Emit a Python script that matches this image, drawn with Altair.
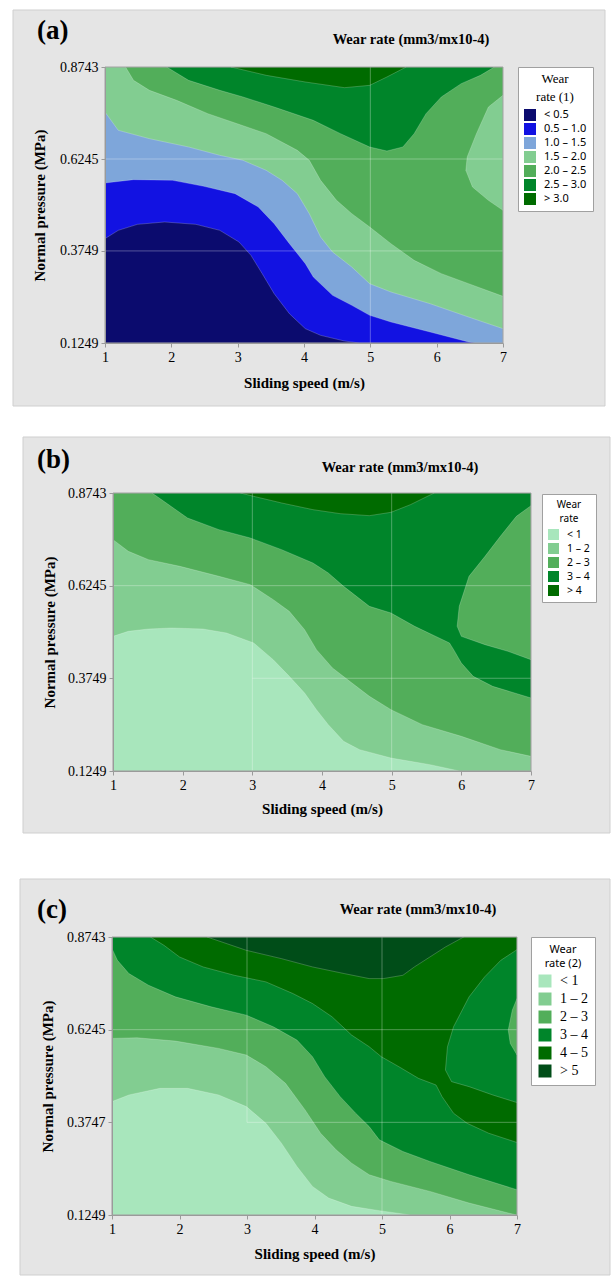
import altair as alt
import pandas as pd

SERIF = "Liberation Serif"
SANS = "Noto Sans"

B, T = 0.1249, 0.8743          # pressure range (MPa)
X0, X1 = 1, 7                  # sliding speed range (m/s)
X_TICKS = [1, 2, 3, 4, 5, 6, 7]
Y_TICKS_AB = [0.1249, 0.3749, 0.6245, 0.8743]
Y_TICKS_C = [0.1249, 0.3747, 0.6245, 0.8743]

PANEL_LABELS = ["(a)", "(b)", "(c)"]
PANEL_TITLE = "Wear rate (mm3/mx10-4)"
X_TITLE = "Sliding speed (m/s)"
Y_TITLE = "Normal pressure (MPa)"

# ---------------- panel (a) ----------------
A_BANDS = ["< 0.5", "0.5 – 1.0", "1.0 – 1.5", "1.5 – 2.0", "2.0 – 2.5", "2.5 – 3.0", "> 3.0"]
A_COLORS = ["#0B0B6E", "#1212E2", "#7EA6DA", "#82CD91", "#52AE5A", "#00852A", "#006B00"]
A_C05 = [(1.00, 0.4082), (1.20, 0.4308), (1.49, 0.4471), (1.90, 0.4535), (2.37, 0.4471), (2.73, 0.4308),
         (3.02, 0.3991), (3.20, 0.3629), (3.37, 0.3132), (3.55, 0.2589), (3.78, 0.2045), (4.02, 0.1638),
         (4.25, 0.1457), (4.61, 0.1303), (4.84, 0.1249)]
A_C10 = [(1.00, 0.5593), (1.43, 0.5684), (2.02, 0.5666), (2.49, 0.5503), (2.96, 0.5304), (3.31, 0.4942),
         (3.55, 0.4489), (3.78, 0.3946), (4.02, 0.3403), (4.14, 0.3041), (4.43, 0.2543), (4.72, 0.2272),
         (4.99, 0.2000), (5.31, 0.1819), (5.90, 0.1548), (6.48, 0.1276), (6.57, 0.1249)]
A_C15 = [(1.00, 0.7521), (1.20, 0.7024), (1.67, 0.6797), (2.26, 0.6571), (2.73, 0.6345), (3.08, 0.6209),
         (3.43, 0.5937), (3.67, 0.5666), (3.90, 0.5304), (4.08, 0.4761), (4.25, 0.4127), (4.43, 0.3720),
         (4.72, 0.3313), (4.99, 0.2860), (5.31, 0.2634), (5.90, 0.2317), (6.48, 0.1955), (7.00, 0.1638)]
A_C20 = [(1.31, 0.8743), (1.43, 0.8381), (1.67, 0.8110), (2.08, 0.7838), (2.55, 0.7476), (2.96, 0.7223),
         (3.43, 0.6933), (3.90, 0.6480), (4.08, 0.6209), (4.25, 0.5666), (4.49, 0.5123), (4.72, 0.4761),
         (4.99, 0.4399), (5.31, 0.3946), (5.66, 0.3494), (6.07, 0.3132), (6.48, 0.2860), (7.00, 0.2516)]
A_ISLAND = [(7.00, 0.7974), (6.78, 0.7657), (6.60, 0.6933), (6.46, 0.6299), (6.44, 0.5937), (6.54, 0.5485),
            (6.78, 0.5123), (7.00, 0.4851)]
A_C25 = [(1.93, 0.8743), (2.26, 0.8381), (2.73, 0.8110), (3.08, 0.7929), (3.55, 0.7657), (4.14, 0.7295),
         (4.55, 0.6933), (4.99, 0.6571), (5.25, 0.6462), (5.49, 0.6571), (5.66, 0.6933), (5.84, 0.7476),
         (6.07, 0.7929), (6.37, 0.8291), (6.66, 0.8517), (6.87, 0.8743)]
A_C30 = [(2.90, 0.8743), (3.43, 0.8517), (4.02, 0.8336), (4.61, 0.8182), (4.99, 0.8245), (5.25, 0.8472),
         (5.54, 0.8743)]
A_GRID = [(5, B, 5, T), (X0, 0.6245, X1, 0.6245), (X0, 0.3749, X1, 0.3749)]

# ---------------- panel (b) ----------------
B_BANDS = ["< 1", "1 – 2", "2 – 3", "3 – 4", "> 4"]
B_COLORS = ["#A8E6BC", "#82CD91", "#52AE5A", "#00852A", "#006B00"]
B_C1 = [(1.00, 0.4879), (1.22, 0.5014), (1.51, 0.5077), (1.84, 0.5104), (2.29, 0.5077), (2.63, 0.4969),
        (3.02, 0.4700), (3.30, 0.4250), (3.53, 0.3801), (3.75, 0.3352), (3.92, 0.2902), (4.09, 0.2498),
        (4.31, 0.2049), (4.54, 0.1824), (4.99, 0.1599), (5.55, 0.1420), (5.97, 0.1249)]
B_C2 = [(1.00, 0.7485), (1.22, 0.7171), (1.51, 0.6946), (1.96, 0.6766), (2.52, 0.6497), (2.97, 0.6272),
        (3.30, 0.5868), (3.53, 0.5553), (3.75, 0.5059), (3.92, 0.4520), (4.15, 0.4026), (4.43, 0.3621),
        (4.68, 0.3262), (4.99, 0.2902), (5.44, 0.2498), (6.00, 0.2184), (6.56, 0.1824), (7.00, 0.1644)]
B_C3 = [(1.56, 0.8743), (1.73, 0.8519), (2.07, 0.8069), (2.52, 0.7755), (2.97, 0.7530), (3.42, 0.7216),
        (3.87, 0.6856), (4.09, 0.6587), (4.31, 0.6227), (4.68, 0.5688), (4.99, 0.5508), (5.33, 0.5149),
        (5.83, 0.4700), (5.89, 0.4520), (6.00, 0.4160), (6.17, 0.3801), (6.45, 0.3531), (7.00, 0.3217)]
B_ISLAND = [(7.00, 0.8402), (6.79, 0.8114), (6.56, 0.7575), (6.34, 0.7036), (6.11, 0.6497), (5.97, 0.5688),
            (5.94, 0.5149), (6.00, 0.4879), (6.34, 0.4655), (6.67, 0.4475), (7.00, 0.4250)]
B_C4 = [(2.83, 0.8743), (3.02, 0.8653), (3.42, 0.8474), (3.87, 0.8294), (4.26, 0.8186), (4.68, 0.8132),
        (4.99, 0.8222), (5.27, 0.8429), (5.61, 0.8743)]
B_GRID = [(5, B, 5, T), (3, B, 3, T), (X0, 0.6245, X1, 0.6245), (3, 0.3749, X1, 0.3749)]

# ---------------- panel (c) ----------------
C_BANDS = ["< 1", "1 – 2", "2 – 3", "3 – 4", "4 – 5", "> 5"]
C_COLORS = ["#A8E6BC", "#82CD91", "#52AE5A", "#00852A", "#006B00", "#004D18"]
C_C1 = [(1.00, 0.4306), (1.25, 0.4485), (1.71, 0.4664), (2.12, 0.4664), (2.58, 0.4485), (2.99, 0.4171),
        (3.28, 0.3723), (3.51, 0.3185), (3.74, 0.2558), (3.97, 0.2020), (4.21, 0.1706), (4.55, 0.1482),
        (4.96, 0.1366), (5.42, 0.1249)]
C_C2 = [(1.00, 0.6009), (1.37, 0.6027), (1.94, 0.5937), (2.58, 0.5740), (2.99, 0.5561), (3.28, 0.5247),
        (3.57, 0.4799), (3.86, 0.4082), (4.09, 0.3454), (4.32, 0.3006), (4.55, 0.2647), (4.81, 0.2334),
        (5.13, 0.2154), (5.71, 0.1885), (6.29, 0.1572), (6.87, 0.1303), (7.00, 0.1249)]
C_C3 = [(1.00, 0.8429), (1.08, 0.8115), (1.25, 0.7757), (1.54, 0.7443), (1.94, 0.7129), (2.47, 0.6860),
        (2.99, 0.6636), (3.39, 0.6323), (3.74, 0.5964), (3.97, 0.5516), (4.15, 0.4978), (4.38, 0.4440),
        (4.61, 0.3992), (4.81, 0.3633), (4.96, 0.3275), (5.31, 0.2961), (5.71, 0.2692), (6.29, 0.2334),
        (7.00, 0.1930)]
C_C4 = [(1.57, 0.8743), (1.77, 0.8519), (2.00, 0.8205), (2.35, 0.7936), (2.81, 0.7712), (3.28, 0.7533),
        (3.68, 0.7219), (3.97, 0.6950), (4.26, 0.6592), (4.55, 0.6099), (4.81, 0.5785), (4.99, 0.5516),
        (5.25, 0.5247), (5.54, 0.4933), (5.80, 0.4754), (5.89, 0.4440), (6.06, 0.3992), (6.26, 0.3723),
        (6.58, 0.3454), (7.00, 0.3203)]
C_ISLAND = [(7.00, 0.8402), (6.76, 0.8115), (6.52, 0.7667), (6.29, 0.7129), (6.06, 0.6323), (5.97, 0.5785),
            (5.94, 0.5157), (6.03, 0.4844), (6.29, 0.4709), (6.64, 0.4485), (7.00, 0.4279)]
C_INNER = [(7.00, 0.7085), (6.93, 0.6771), (6.87, 0.6233), (6.90, 0.5874), (7.00, 0.5561)]
C_C5 = [(2.41, 0.8743), (2.99, 0.8384), (3.51, 0.8160), (3.97, 0.7936), (4.44, 0.7757), (4.81, 0.7622),
        (5.02, 0.7622), (5.31, 0.7712), (5.48, 0.7936), (5.71, 0.8205), (5.94, 0.8474), (6.21, 0.8743)]
C_GRID = [(5, B, 5, T), (3, 0.3747, 3, T), (X0, 0.6245, X1, 0.6245), (3, 0.3747, X1, 0.3747)]

RECT = [(X0, B), (X1, B), (X1, T), (X0, T)]
BR, TR, TL = (X1, B), (X1, T), (X0, T)

A_REGIONS = [(0, RECT), (1, A_C05 + [BR, TR, TL]), (2, A_C10 + [BR, TR, TL]), (3, A_C15 + [TR, TL]),
             (4, A_C20 + [TR]), (3, A_ISLAND), (5, A_C25), (6, A_C30)]
B_REGIONS = [(0, RECT), (1, B_C1 + [BR, TR, TL]), (2, B_C2 + [TR, TL]), (3, B_C3 + [TR]),
             (2, B_ISLAND), (4, B_C4)]
C_REGIONS = [(0, RECT), (1, C_C1 + [BR, TR, TL]), (2, C_C2 + [TR, TL]), (3, C_C3 + [TR, TL]),
             (4, C_C4 + [TR]), (3, C_ISLAND), (2, C_INNER), (5, C_C5)]

W, H = 611, 1276
ONE = pd.DataFrame({"k": [0]})


def panel(label, regions, bands, colors, grid, yticks, plot, box, lab_pos, title_pos,
          ytitle_x, xtitle_y, legend):
    L, R, TOP, BOT = plot
    xenc = alt.X("x:Q", scale=alt.Scale(domain=[X0, X1], range=[L, R], nice=False, zero=False),
                 axis=alt.Axis(title=X_TITLE, orient="bottom", offset=BOT - H, values=X_TICKS, format="d",
                               grid=False, labelFont=SERIF, labelFontSize=14, labelColor="#000",
                               labelPadding=3, labelFlush=False, tickSize=4, tickColor="#9a9a9a",
                               domainColor="#9a9a9a", titleFont=SERIF, titleFontSize=15,
                               titleFontWeight="bold", titleColor="#000", titleX=(L + R) / 2,
                               titleY=xtitle_y - BOT, titleAlign="center", titleBaseline="alphabetic",
                               zindex=1))
    yenc = alt.Y("y:Q", scale=alt.Scale(domain=[B, T], range=[BOT, TOP], nice=False, zero=False),
                 axis=alt.Axis(title=Y_TITLE, orient="left", offset=-L, values=yticks, format=".4f",
                               grid=False, labelFont=SERIF, labelFontSize=14, labelColor="#000",
                               labelPadding=3, labelFlush=False, tickSize=4, tickColor="#9a9a9a",
                               domainColor="#9a9a9a", titleFont=SERIF, titleFontSize=15,
                               titleFontWeight="bold", titleColor="#000", titleX=ytitle_x - L,
                               titleY=(TOP + BOT) / 2, titleAngle=270, titleAlign="center",
                               titleBaseline="middle", zindex=1))
    color = alt.Color("band:N", scale=alt.Scale(domain=bands, range=colors), legend=legend)

    bg = alt.Chart(ONE).mark_rect(fill="#E5E5E5", stroke="#CFCFCF", strokeWidth=1).encode(
        x=alt.value(box[0]), x2=alt.value(box[1]), y=alt.value(box[2]), y2=alt.value(box[3]))
    layers = [bg]
    for bi, pts in regions:
        df = pd.DataFrame({"x": [p[0] for p in pts], "y": [p[1] for p in pts],
                           "ord": list(range(len(pts))), "band": bands[bi]})
        layers.append(alt.Chart(df).mark_line(interpolate="linear-closed", filled=True,
                                              stroke="#ffffff", strokeOpacity=0.3, strokeWidth=0.7).encode(
            x=xenc, y=yenc, order=alt.Order("ord:Q"), color=color))
    gdf = pd.DataFrame({"x": [g[0] for g in grid], "y": [g[1] for g in grid],
                        "x2": [g[2] for g in grid], "y2": [g[3] for g in grid]})
    layers.append(alt.Chart(gdf).mark_rule(color="#ffffff", opacity=0.3, strokeWidth=1).encode(
        x=xenc, y=yenc, x2="x2:Q", y2="y2:Q"))
    frame = pd.DataFrame({"x": [X0], "y": [B], "x2": [X1], "y2": [T]})
    layers.append(alt.Chart(frame).mark_rect(fill=None, stroke="#9a9a9a", strokeWidth=1).encode(
        x=xenc, y=yenc, x2="x2:Q", y2="y2:Q"))
    layers.append(alt.Chart(ONE).mark_text(text=label, font=SERIF, fontSize=27, fontWeight="bold",
                                           align="left", baseline="alphabetic", color="#000").encode(
        x=alt.value(lab_pos[0]), y=alt.value(lab_pos[1])))
    layers.append(alt.Chart(ONE).mark_text(text=PANEL_TITLE, font=SERIF, fontSize=14.5, fontWeight="bold",
                                           align="center", baseline="alphabetic", color="#000").encode(
        x=alt.value(title_pos[0]), y=alt.value(title_pos[1])))
    return alt.layer(*layers)


def make_legend(title, x, y, title_font, title_size, label_font, label_size, sym, row_pad, title_lh, pad):
    return alt.Legend(orient="none", legendX=x, legendY=y, title=title, titleFont=title_font,
                      titleFontSize=title_size, titleFontWeight="normal", titleColor="#000",
                      titleAnchor="middle", titleAlign="center", titleLineHeight=title_lh,
                      labelFont=label_font, labelFontSize=label_size, labelColor="#000",
                      symbolType="square", symbolSize=sym, symbolStrokeWidth=0, symbolOpacity=1,
                      rowPadding=row_pad, padding=pad, fillColor="#ffffff", strokeColor="#A0A0A0",
                      labelOffset=8, zindex=1)


pa = panel(PANEL_LABELS[0], A_REGIONS, A_BANDS, A_COLORS, A_GRID, Y_TICKS_AB,
           (105, 503, 67, 343), (13, 605, 10, 406), (37, 39), (411, 44), 39, 387,
           make_legend(["Wear", "rate (1)"], 518, 67, SERIF, 13, SANS, 11, 144, 2, 18, 6))
pb = panel(PANEL_LABELS[1], B_REGIONS, B_BANDS, B_COLORS, B_GRID, Y_TICKS_AB,
           (113, 531, 493, 771), (23, 610, 437, 833), (37, 468), (400, 472), 49, 813,
           make_legend(["Wear", "rate"], 542, 494, SANS, 10, SANS, 10.5, 121, 3, 14, 6))
pc = panel(PANEL_LABELS[2], C_REGIONS, C_BANDS, C_COLORS, C_GRID, Y_TICKS_C,
           (112, 517, 937, 1215), (20, 610, 879, 1275), (37, 918), (418, 914), 47, 1258,
           make_legend(["Wear", "rate (2)"], 531, 937, SANS, 11, SERIF, 14, 169, 4, 14, 7))

chart = alt.layer(pa, pb, pc).resolve_scale(
    x="independent", y="independent", color="independent"
).resolve_axis(x="independent", y="independent").resolve_legend(color="independent").properties(
    width=W, height=H, padding=0, background="#ffffff"
).configure_view(stroke=None)

chart.save("out.html", embed_options={"renderer": "svg", "actions": False})
